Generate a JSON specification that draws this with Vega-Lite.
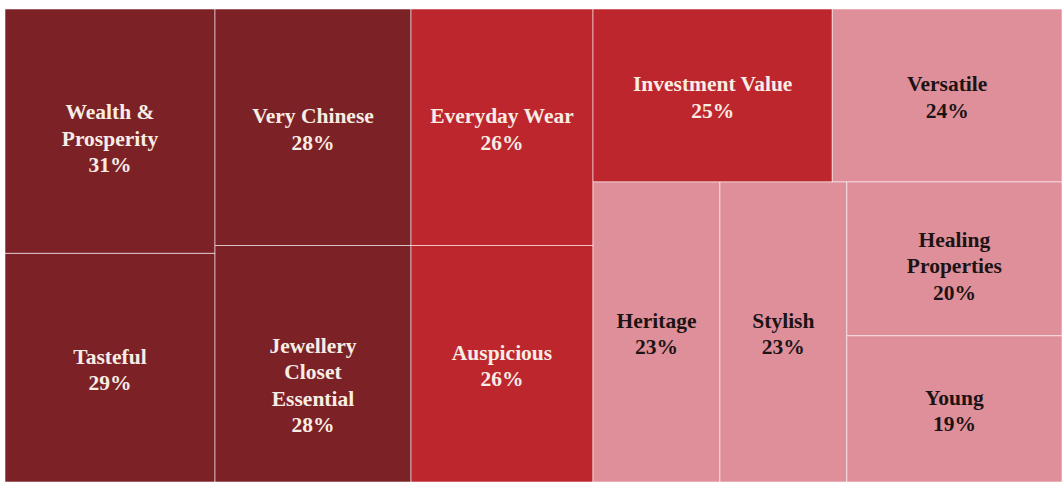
{
  "$schema": "https://vega.github.io/schema/vega-lite/v6.json",
  "width": 1057,
  "height": 473,
  "autosize": {"type": "none"},
  "padding": {"left": 5, "top": 9, "right": 0, "bottom": 0},
  "background": "white",
  "config": {"view": {"stroke": null}},
  "data": {
    "values": [
      {"order": 1, "label": "Wealth &\nProsperity", "value": 0.31, "col": "c1", "band": "b1", "sub": "s1", "tier": "high"},
      {"order": 2, "label": "Tasteful", "value": 0.29, "col": "c1", "band": "b2", "sub": "s2", "tier": "high"},
      {"order": 3, "label": "Very Chinese", "value": 0.28, "col": "c2", "band": "b3", "sub": "s3", "tier": "high"},
      {"order": 4, "label": "Jewellery\nCloset\nEssential", "value": 0.28, "col": "c2", "band": "b4", "sub": "s4", "tier": "high"},
      {"order": 5, "label": "Everyday Wear", "value": 0.26, "col": "c3", "band": "b5", "sub": "s5", "tier": "mid"},
      {"order": 6, "label": "Auspicious", "value": 0.26, "col": "c3", "band": "b6", "sub": "s6", "tier": "mid"},
      {"order": 7, "label": "Investment Value", "value": 0.25, "col": "c4", "band": "top", "sub": "s7", "tier": "mid"},
      {"order": 8, "label": "Versatile", "value": 0.24, "col": "c4", "band": "top", "sub": "s8", "tier": "low"},
      {"order": 9, "label": "Heritage", "value": 0.23, "col": "c4", "band": "bottom", "sub": "s9", "tier": "low"},
      {"order": 10, "label": "Stylish", "value": 0.23, "col": "c4", "band": "bottom", "sub": "s10", "tier": "low"},
      {"order": 11, "label": "Healing\nProperties", "value": 0.20, "col": "c4", "band": "bottom", "sub": "s11", "tier": "low"},
      {"order": 12, "label": "Young", "value": 0.19, "col": "c4", "band": "bottom", "sub": "s11", "tier": "low"}
    ]
  },
  "transform": [
    {"stack": "value", "groupby": [], "sort": [{"field": "order", "order": "ascending"}], "offset": "normalize", "as": ["a0", "a1"]},
    {"joinaggregate": [{"op": "min", "field": "a0", "as": "cx0"}, {"op": "max", "field": "a1", "as": "cx1"}], "groupby": ["col"]},
    {"stack": "value", "groupby": ["col"], "sort": [{"field": "order", "order": "ascending"}], "offset": "normalize", "as": ["b0", "b1"]},
    {"joinaggregate": [{"op": "min", "field": "b0", "as": "by0"}, {"op": "max", "field": "b1", "as": "by1"}], "groupby": ["col", "band"]},
    {"stack": "value", "groupby": ["col", "band"], "sort": [{"field": "order", "order": "ascending"}], "offset": "normalize", "as": ["c0", "c1"]},
    {"joinaggregate": [{"op": "min", "field": "c0", "as": "sf0"}, {"op": "max", "field": "c1", "as": "sf1"}], "groupby": ["col", "band", "sub"]},
    {"stack": "value", "groupby": ["col", "band", "sub"], "sort": [{"field": "order", "order": "ascending"}], "offset": "normalize", "as": ["d0", "d1"]},
    {"calculate": "datum.cx0 + datum.sf0 * (datum.cx1 - datum.cx0)", "as": "x0"},
    {"calculate": "datum.cx0 + datum.sf1 * (datum.cx1 - datum.cx0)", "as": "x1"},
    {"calculate": "datum.by0 + datum.d0 * (datum.by1 - datum.by0)", "as": "y0"},
    {"calculate": "datum.by0 + datum.d1 * (datum.by1 - datum.by0)", "as": "y1"},
    {"calculate": "(datum.x0 + datum.x1) / 2", "as": "xm"},
    {"calculate": "(datum.y0 + datum.y1) / 2", "as": "ym"},
    {"calculate": "datum.label + '\\n' + format(datum.value, '.0%')", "as": "text"},
    {"calculate": "length(split(datum.text, '\\n'))", "as": "nlines"}
  ],
  "encoding": {
    "x": {"field": "x0", "type": "quantitative", "scale": {"domain": [0, 1], "nice": false, "zero": false}, "axis": null},
    "y": {"field": "y0", "type": "quantitative", "scale": {"domain": [0, 1], "nice": false, "zero": false, "reverse": true}, "axis": null}
  },
  "layer": [
    {
      "mark": {"type": "rect", "stroke": "#ffffff", "strokeWidth": 1, "strokeOpacity": 0.55},
      "encoding": {
        "x2": {"field": "x1"},
        "y2": {"field": "y1"},
        "color": {"field": "tier", "type": "nominal", "scale": {"domain": ["high", "mid", "low"], "range": ["#7C2227", "#BE262E", "#DF8F9A"]}, "legend": null}
      }
    },
    {
      "transform": [{"filter": "datum.nlines === 2"}],
      "mark": {"type": "text", "font": "Liberation Serif", "fontSize": 21.5, "fontWeight": "bold", "lineBreak": "\n", "lineHeight": 26.5, "align": "center", "baseline": "middle", "dy": -10},
      "encoding": {
        "x": {"field": "xm", "type": "quantitative"},
        "y": {"field": "ym", "type": "quantitative"},
        "text": {"field": "text"},
        "color": {"condition": {"test": "datum.tier === 'low'", "value": "#1c1414"}, "value": "#F7EDE4"}
      }
    },
    {
      "transform": [{"filter": "datum.nlines === 3"}],
      "mark": {"type": "text", "font": "Liberation Serif", "fontSize": 21.5, "fontWeight": "bold", "lineBreak": "\n", "lineHeight": 26.5, "align": "center", "baseline": "middle", "dy": -18},
      "encoding": {
        "x": {"field": "xm", "type": "quantitative"},
        "y": {"field": "ym", "type": "quantitative"},
        "text": {"field": "text"},
        "color": {"condition": {"test": "datum.tier === 'low'", "value": "#1c1414"}, "value": "#F7EDE4"}
      }
    },
    {
      "transform": [{"filter": "datum.nlines === 4"}],
      "mark": {"type": "text", "font": "Liberation Serif", "fontSize": 21.5, "fontWeight": "bold", "lineBreak": "\n", "lineHeight": 26.5, "align": "center", "baseline": "middle", "dy": -17},
      "encoding": {
        "x": {"field": "xm", "type": "quantitative"},
        "y": {"field": "ym", "type": "quantitative"},
        "text": {"field": "text"},
        "color": {"condition": {"test": "datum.tier === 'low'", "value": "#1c1414"}, "value": "#F7EDE4"}
      }
    }
  ]
}
